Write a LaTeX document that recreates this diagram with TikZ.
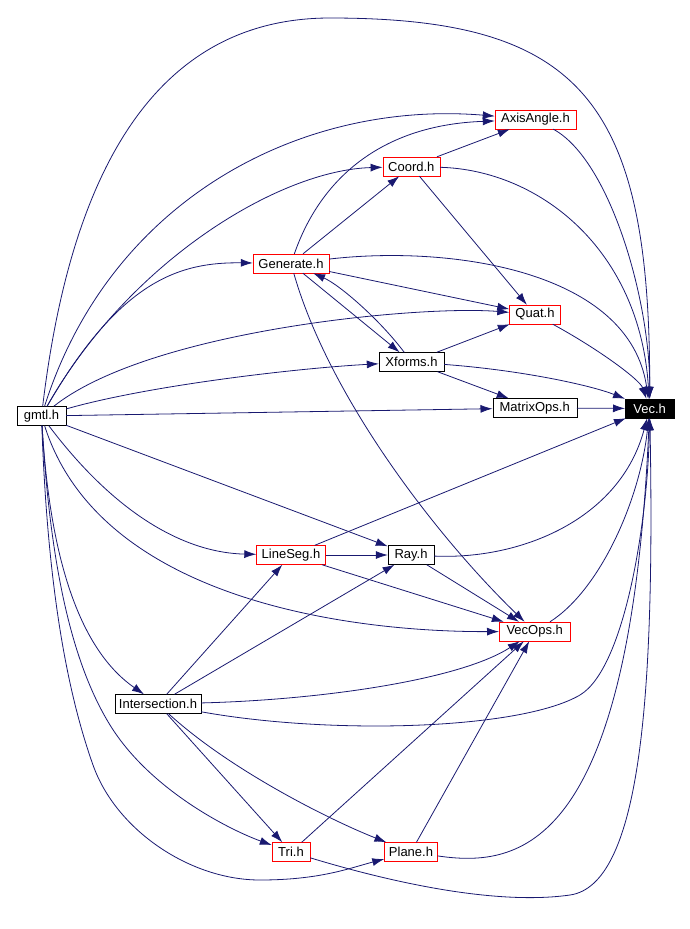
\documentclass[tikz,border=0pt]{standalone}
\usepackage{fontspec}
\setmainfont{Liberation Sans}
\usetikzlibrary{arrows.meta}
\definecolor{depblue}{HTML}{191970}

\begin{document}
\begin{tikzpicture}[
x=1pt,y=-1pt,
every node/.style={
draw,
font=\fontsize{13}{15}\selectfont,
inner sep=0pt,
minimum height=19pt
},
redfile/.style={draw=red},
blackfile/.style={draw=black},
mainfile/.style={fill=black,text=white},
dep/.style={draw=depblue,line width=0.8pt,-{Latex[length=12pt,width=8pt]}}
]

\useasboundingbox (0,0) rectangle (689,929);

\node[blackfile,minimum width=49pt] (gmtl) at (41.5,416)
{gmtl.h};

\node[redfile,minimum width=81pt] (axisangle) at (535.5,119.5)
{AxisAngle.h};

\node[redfile,minimum width=57pt] (coord) at (411.3,166.5)
{Coord.h};

\node[redfile,minimum width=76pt] (generate) at (291,263.5)
{Generate.h};

\node[redfile,minimum width=51pt] (quat) at (535,314.5)
{Quat.h};

\node[blackfile,minimum width=65pt] (xforms) at (411.5,362)
{Xforms.h};

\node[blackfile,minimum width=84pt] (matrixops) at (534.7,408)
{MatrixOps.h};

\node[mainfile,minimum width=49pt] (vec) at (649.7,408.5)
{Vec.h};

\node[redfile,minimum width=69pt] (lineseg) at (291,555)
{LineSeg.h};

\node[blackfile,minimum width=46pt] (ray) at (411,555)
{Ray.h};

\node[redfile,minimum width=71pt] (vecops) at (534.7,631.5)
{VecOps.h};

\node[blackfile,minimum width=86pt] (intersection) at (158,704)
{Intersection.h};

\node[redfile,minimum width=38pt] (tri) at (291,852)
{Tri.h};

\node[redfile,minimum width=53pt] (plane) at (411,852)
{Plane.h};

% gmtl.h
\draw[dep] (gmtl) .. controls (65,220) and (130,18) .. (330,18)
.. controls (580,18) and (650,100) .. (vec);
\draw[dep] (gmtl) .. controls (110,200) and (300,100) .. (axisangle);
\draw[dep] (gmtl) .. controls (130,260) and (280,170) .. (coord);
\draw[dep] (gmtl) .. controls (120,280) and (180,262) .. (generate);
\draw[dep] (gmtl) .. controls (150,330) and (420,305) .. (quat);
\draw[dep] (gmtl) .. controls (150,385) and (300,368) .. (xforms);
\draw[dep] (gmtl) -- (matrixops);
\draw[dep] (gmtl) -- (ray);
\draw[dep] (gmtl) .. controls (120,520) and (190,553) .. (lineseg);
\draw[dep] (gmtl) .. controls (100,600) and (350,632) .. (vecops);
\draw[dep] (gmtl) .. controls (50,560) and (80,650) .. (intersection);
\draw[dep] (gmtl) .. controls (50,560) and (70,660) .. (110,725)
.. controls (150,790) and (230,830) .. (tri);
\draw[dep] (gmtl) .. controls (48,600) and (70,700) .. (93,765)
.. controls (116,830) and (190,880) .. (260,880)
.. controls (320,880) and (350,868) .. (plane);

% upper files
\draw[dep] (axisangle) .. controls (610,160) and (650,300) .. (vec);
\draw[dep] (coord) -- (axisangle);
\draw[dep] (coord) -- (quat);
\draw[dep] (coord) .. controls (540,170) and (640,250) .. (vec);
\draw[dep] (generate) .. controls (320,180) and (380,125) .. (axisangle);
\draw[dep] (generate) -- (coord);
\draw[dep] (generate) .. controls (450,245) and (630,270) .. (vec);
\draw[dep] (generate) -- (quat);
\draw[dep] (generate) -- (xforms);
\draw[dep] (generate) .. controls (330,400) and (440,540) .. (vecops);
\draw[dep] (quat) .. controls (600,350) and (640,380) .. (vec);
\draw[dep] (xforms) .. controls (380,320) and (340,285) .. (generate);
\draw[dep] (xforms) -- (quat);
\draw[dep] (xforms) .. controls (520,370) and (590,385) .. (vec);
\draw[dep] (xforms) -- (matrixops);
\draw[dep] (matrixops) -- (vec);

% lower files
\draw[dep] (lineseg) -- (ray);
\draw[dep] (lineseg) -- (vecops);
\draw[dep] (lineseg) -- (vec);
\draw[dep] (ray) -- (vecops);
\draw[dep] (ray) .. controls (520,560) and (620,520) .. (vec);
\draw[dep] (vecops) .. controls (600,590) and (640,500) .. (vec);
\draw[dep] (intersection) -- (lineseg);
\draw[dep] (intersection) -- (ray);
\draw[dep] (intersection) .. controls (320,700) and (460,680) .. (vecops);
\draw[dep] (intersection) .. controls (330,735) and (520,730) .. (580,695)
.. controls (625,668) and (648,520) .. (vec);
\draw[dep] (intersection) -- (tri);
\draw[dep] (intersection) .. controls (230,770) and (330,820) .. (plane);
\draw[dep] (tri) -- (vecops);
\draw[dep] (tri) .. controls (400,885) and (500,905) .. (570,895)
.. controls (640,885) and (655,700) .. (vec);
\draw[dep] (plane) -- (vecops);
\draw[dep] (plane) .. controls (520,868) and (630,850) .. (vec);

\end{tikzpicture}
\end{document}
